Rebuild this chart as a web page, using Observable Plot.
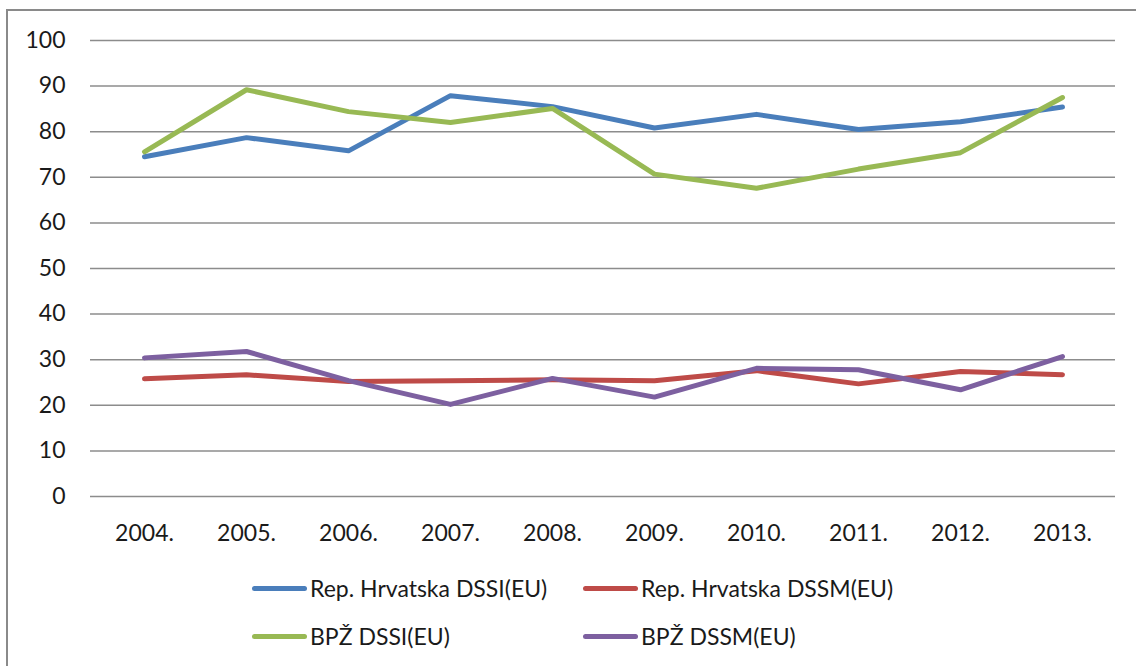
<!DOCTYPE html>
<html>
<head>
<meta charset="utf-8">
<script src="https://cdn.jsdelivr.net/npm/d3@7"></script>
<script src="https://cdn.jsdelivr.net/npm/@observablehq/plot@0.6"></script>
<style>
  html, body { margin: 0; padding: 0; background: #fff; }
  #wrap { position: relative; width: 1136px; height: 666px; overflow: hidden; font-family: Lato, "Open Sans", sans-serif; }
  #frame { position: absolute; left: 6px; top: 9px; width: 1140px; height: 700px; border: 2px solid #8a8a8a; box-sizing: border-box; }
  #chart { position: absolute; left: 0; top: 0; }
  .leg { position: absolute; display: flex; align-items: center; font-size: 23px; color: #1a1a1a; white-space: nowrap; line-height: 26px; }
  .leg .sw { width: 55px; height: 5px; border-radius: 3px; margin-right: 3px; }
</style>
</head>
<body>
<div id="wrap">
  <div id="frame"></div>
  <div id="chart"></div>
  <div id="legend"></div>
</div>
<script>
const years = ["2004.", "2005.", "2006.", "2007.", "2008.", "2009.", "2010.", "2011.", "2012.", "2013."];
const seriesNames = ["Rep. Hrvatska DSSI(EU)", "Rep. Hrvatska DSSM(EU)", "BPŽ DSSI(EU)", "BPŽ DSSM(EU)"];
const colors = ["#4a7ebb", "#be4b48", "#98b954", "#7d60a0"];
const hrDSSI = [74.5, 78.7, 75.8, 87.9, 85.5, 80.8, 83.8, 80.5, 82.2, 85.4];
const hrDSSM = [25.8, 26.7, 25.2, 25.4, 25.6, 25.4, 27.6, 24.7, 27.4, 26.7];
const bpzDSSI = [75.6, 89.2, 84.4, 82.0, 85.1, 70.7, 67.6, 71.8, 75.4, 87.5];
const bpzDSSM = [30.4, 31.8, 25.4, 20.2, 25.9, 21.8, 28.1, 27.8, 23.4, 30.7];
const yTicks = [0, 10, 20, 30, 40, 50, 60, 70, 80, 90, 100];

const allSeries = [hrDSSI, hrDSSM, bpzDSSI, bpzDSSM];
const data = [];
allSeries.forEach((vals, si) => {
  vals.forEach((v, i) => data.push({year: years[i], value: v, series: seriesNames[si]}));
});

const chart = Plot.plot({
  width: 1136,
  height: 560,
  marginLeft: 90,
  marginRight: 21,
  marginTop: 40,
  marginBottom: 64,
  style: {fontFamily: "Lato, 'Open Sans', sans-serif", fontSize: "23px", color: "#1a1a1a", background: "transparent"},
  x: {type: "point", domain: years, padding: 0.5, label: null},
  y: {domain: [0, 100], label: null},
  color: {domain: seriesNames, range: colors},
  marks: [
    Plot.ruleY(yTicks, {stroke: "#8c8c8c", strokeWidth: 1.5}),
    Plot.axisY({ticks: yTicks, tickSize: 0, tickPadding: 25, label: null, fontSize: 23}),
    Plot.axisX({tickSize: 0, tickPadding: 28, label: null, fontSize: 23}),
    Plot.line(data, {x: "year", y: "value", z: "series", stroke: "series", strokeWidth: 5, strokeLinejoin: "round", strokeLinecap: "round"})
  ]
});
document.getElementById("chart").appendChild(chart);

const legend = document.getElementById("legend");
const pos = [[252, 588], [583, 588], [252, 636], [583, 636]];
seriesNames.forEach((name, i) => {
  const el = document.createElement("div");
  el.className = "leg";
  el.style.left = pos[i][0] + "px";
  el.style.top = (pos[i][1] - 13) + "px";
  el.innerHTML = `<span class="sw" style="background:${colors[i]}"></span><span>${name}</span>`;
  legend.appendChild(el);
});
</script>
</body>
</html>
